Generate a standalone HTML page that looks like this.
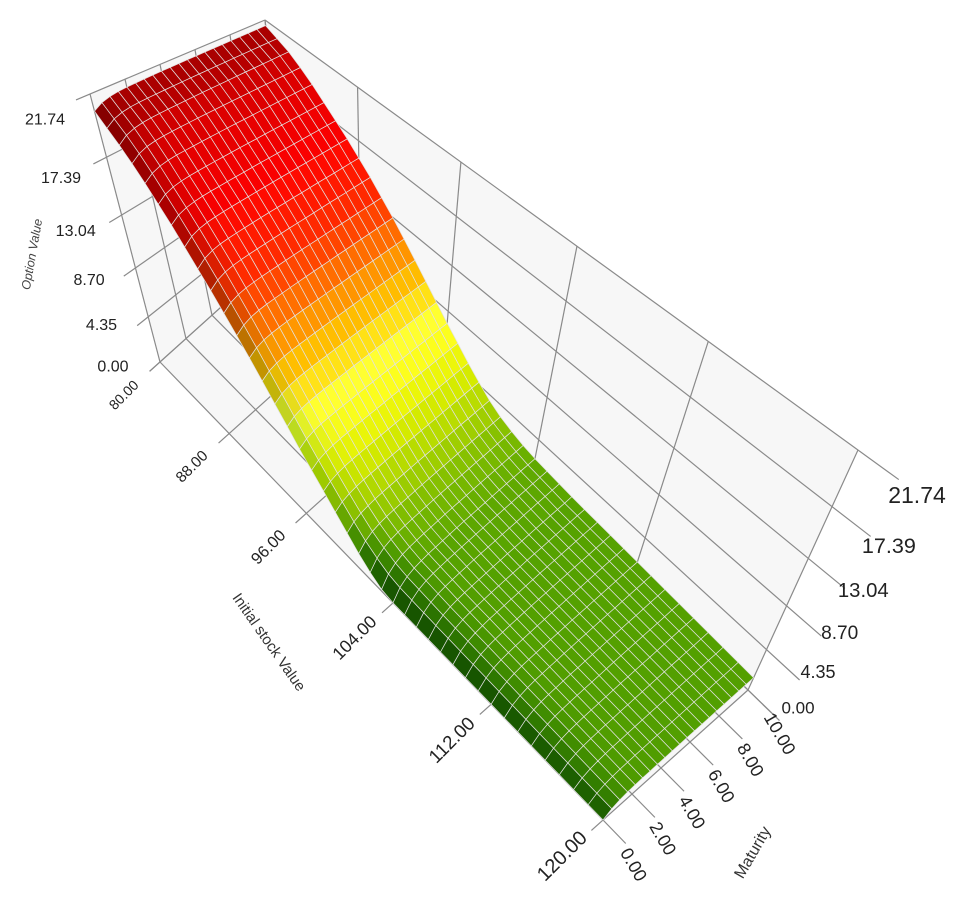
<!DOCTYPE html>
<html><head><meta charset="utf-8"><style>
html,body{margin:0;padding:0;background:#fff;}
svg{display:block;font-family:"Liberation Sans",sans-serif;}
</style></head><body>
<svg id="chart" width="969" height="911" viewBox="0 0 969 911" xmlns="http://www.w3.org/2000/svg">
<g id="walls"></g>
<g id="grid"></g>
<g id="surface"></g>
<g id="labels"></g>
<text x="36" y="255" font-size="12.5" font-style="italic" fill="#444" text-anchor="middle" transform="rotate(-80 36 255)">Option Value</text>
<text x="265" y="645" font-size="15" fill="#333" text-anchor="middle" transform="rotate(55 265 645)">Initial stock Value</text>
<text x="757" y="855" font-size="16" fill="#333" text-anchor="middle" transform="rotate(-60 757 855)">Maturity</text>
</svg>
<script>
// ---- data ----
var stockValues = [80,81,82,83,84,85,86,87,88,89,90,91,92,93,94,95,96,97,98,99,100,101,102,103,104,105,106,107,108,109,110,111,112,113,114,115,116,117,118,119,120];
var maturities = [0,0.5,1,1.5,2,2.5,3,3.5,4,4.5,5,5.5,6,6.5,7,7.5,8,8.5,9,9.5,10];
var valueAtMaxMaturity = [21.3,20.9,20.5,19.9,19.2,18.4,17.6,16.8,15.9,15.0,14.0,13.0,11.9,10.8,9.7,8.6,7.5,6.5,5.5,4.6,3.8,3.2,2.8,2.5,2.3,2.2,2.1,2.0,1.95,1.9,1.85,1.8,1.75,1.7,1.65,1.6,1.55,1.5,1.45,1.4,1.35];
var valueAtZeroMaturity = [20.6,20.1,19.6,19.0,18.3,17.5,16.7,15.8,14.9,14.0,13.0,12.0,11.0,9.9,8.8,7.7,6.6,5.6,4.6,3.6,2.6,1.6,0.8,0.2,0,0,0,0,0,0,0,0,0,0,0,0,0,0,0,0,0];
var maturityWeight = [0,0.45,0.68,0.8,0.86,0.89,0.91,0.925,0.94,0.95,0.96,0.965,0.97,0.975,0.98,0.985,0.988,0.991,0.994,0.997,1];
var valueTicks = [0,4.35,8.70,13.04,17.39,21.74];
var stockTicks = [80,88,96,104,112,120];
var maturityTicks = [0,2,4,6,8,10];

// ---- projection ----
var VMAX = 21.74;
var A=[160,362], B=[603,820], C=[748,690], D=[290,245];
var UA=[-70,-268], UB=[63,-203], UC=[110,-240], UD=[-25,-225];
function warp(u,k){return k*u/(1+(k-1)*u);}
function bil(p00,p10,p11,p01,a,b){
  var x0=p00[0]+(p10[0]-p00[0])*a, y0=p00[1]+(p10[1]-p00[1])*a;
  var x1=p01[0]+(p11[0]-p01[0])*a, y1=p01[1]+(p11[1]-p01[1])*a;
  return [x0+(x1-x0)*b, y0+(y1-y0)*b];
}
function P(s,t,v){
  var a=warp((s-80)/40,0.74), b=t/10, g=warp(v/VMAX,0.81);
  var f=bil(A,B,C,D,a,b), u=bil(UA,UB,UC,UD,a,b);
  return [f[0]+u[0]*g, f[1]+u[1]*g];
}
var NS="http://www.w3.org/2000/svg";
function el(tag,attrs,parent){var e=document.createElementNS(NS,tag);for(var k in attrs)e.setAttribute(k,attrs[k]);parent.appendChild(e);return e;}
function pts(arr){return arr.map(function(p){return p[0].toFixed(1)+","+p[1].toFixed(1);}).join(" ");}

// ---- walls ----
var walls=document.getElementById("walls");
var w1=el("polygon",{points:pts([P(80,10,0),P(120,10,0),P(120,10,VMAX),P(80,10,VMAX)]),fill:"#f7f7f7"},walls);


var w2=el("polygon",{points:pts([P(80,0,0),P(80,10,0),P(80,10,VMAX),P(80,0,VMAX)]),fill:"#f7f7f7"},walls);


var w3=el("polygon",{points:pts([P(80,0,0),P(120,0,0),P(120,10,0),P(80,10,0)]),fill:"#f7f7f7"},walls);



// ---- grid ----
var grid=document.getElementById("grid");
function line(p,q,name){var l=el("line",{x1:p[0],y1:p[1],x2:q[0],y2:q[1],stroke:"#8a8a8a","stroke-width":1.2},grid);
  
  }
valueTicks.forEach(function(v){
  line(P(80,10,v),P(122,10,v),'back-value-gridline');
  line(P(80,-0.8,v),P(80,10,v),'side-value-gridline');
});
stockTicks.forEach(function(s){
  line(P(s,10,0),P(s,10,VMAX),'back-stock-gridline');
  line(P(s,-0.8,0),P(s,10,0),'floor-stock-gridline');
});
maturityTicks.forEach(function(t){
  line(P(80,t,0),P(80,t,VMAX),'side-maturity-gridline');
  line(P(80,t,0),P(121.5,t,0),'floor-maturity-gridline');
});

// ---- surface ----
function hex2rgb(h){return [parseInt(h.substr(1,2),16),parseInt(h.substr(3,2),16),parseInt(h.substr(5,2),16)];}
var ramp=[[0,'#5aa800'],[2,'#6ab400'],[3.5,'#9ccc00'],[5.5,'#d8ec00'],[8,'#ffff30'],[10,'#ffc000'],[12,'#ff7a00'],[14,'#ff3000'],[17,'#f00000'],[20,'#d00000'],[21.74,'#9a0000']];
function colorAt(v,br){
  var i=0;while(i<ramp.length-2&&v>ramp[i+1][0])i++;
  var a=ramp[i],b=ramp[i+1],f=Math.max(0,Math.min(1,(v-a[0])/(b[0]-a[0])));
  var c1=hex2rgb(a[1]),c2=hex2rgb(b[1]);
  var c=[0,1,2].map(function(k){return c1[k]+(c2[k]-c1[k])*f;});
  var out=[c[0]*br*br, c[1]*br, c[2]*br];
  return "rgb("+out.map(function(x){return Math.max(0,Math.min(255,Math.round(x)));}).join(",")+")";
}
var nS=stockValues.length,nT=maturities.length;
var Z=[];
for(var i=0;i<nS;i++){Z.push([]);for(var j=0;j<nT;j++){
  Z[i].push(valueAtZeroMaturity[i]+(valueAtMaxMaturity[i]-valueAtZeroMaturity[i])*maturityWeight[j]);}}
var L=[0.5,0.75,0.55],Ln=Math.hypot(L[0],L[1],L[2]);
var cells=[];
for(var i=0;i<nS-1;i++){for(var j=0;j<nT-1;j++){
  var s0=stockValues[i],s1=stockValues[i+1],t0=maturities[j],t1=maturities[j+1];
  var z00=Z[i][j],z10=Z[i+1][j],z11=Z[i+1][j+1],z01=Z[i][j+1];
  var ds=((s1-s0)/40)*2, dt=(t1-t0)/10;
  var dvds=((z10+z11)-(z00+z01))/2/VMAX/ds;
  var dvdt=((z01+z11)-(z00+z10))/2/VMAX/dt;
  var n=[-dvds,-dvdt,1],nn=Math.hypot(n[0],n[1],n[2]);
  var lam=(n[0]*L[0]+n[1]*L[1]+n[2]*L[2])/nn/Ln;
  var br=Math.min(1.05,0.5+0.75*Math.max(lam,0));
  var avg=(z00+z10+z11+z01)/4;
  var key=((s0+s1)/2-80)/40*1.0+(1-(t0+t1)/20)*0.8+avg/VMAX*1.2;
  cells.push({key:key,poly:[P(s0,t0,z00),P(s1,t0,z10),P(s1,t1,z11),P(s0,t1,z01)],fill:colorAt(avg,br)});
}}
cells.sort(function(a,b){return a.key-b.key;});
var surf=document.getElementById("surface");
cells.forEach(function(c){
  var p=el("polygon",{points:pts(c.poly),fill:c.fill,stroke:"#e2e2e2","stroke-width":0.7,"stroke-linejoin":"round"},surf);
  
  
});

// ---- labels ----
var lab=document.getElementById("labels");
function text(x,y,str,size,rot,name){
  var t=el("text",{x:x.toFixed(1),y:y.toFixed(1),"font-size":size,fill:"#222","text-anchor":"middle","dominant-baseline":"central"},lab);
  if(rot)t.setAttribute("transform","rotate("+rot+" "+x.toFixed(1)+" "+y.toFixed(1)+")");
  t.textContent=str;
  
  
}
valueTicks.forEach(function(v){
  var g=warp(v/VMAX,0.81);
  text(113+(45-113)*g,367+(120-367)*g,v.toFixed(2),16,0,'left-value-tick-label');
  text(798+(917-798)*g,708+(495-708)*g,v.toFixed(2),17+6*g,0,'right-value-tick-label');
});
stockTicks.forEach(function(s){
  var p=P(s,-2.8,0),u=(s-80)/40;
  text(p[0],p[1],s.toFixed(2),14+6*u,-45,'stock-tick-label');
});
maturityTicks.forEach(function(t){
  var p=P(122.2,t,0);
  text(p[0]-3,p[1]+10,t.toFixed(2),18,60,'maturity-tick-label');
});
</script>
</body></html>
